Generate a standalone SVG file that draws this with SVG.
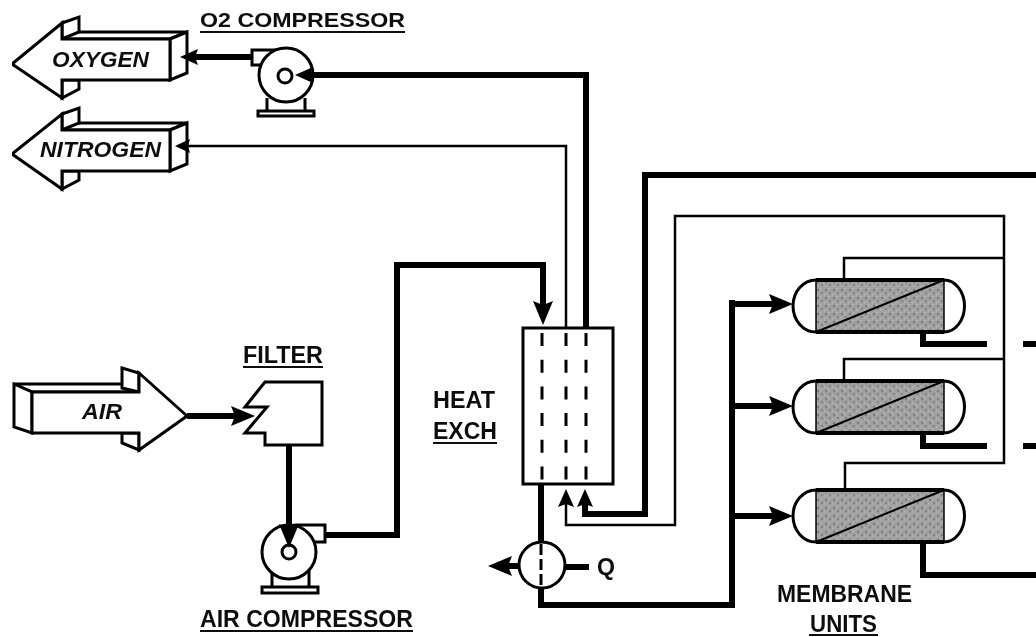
<svg xmlns="http://www.w3.org/2000/svg" width="1036" height="637" viewBox="0 0 1036 637">
<style>
.o{fill:#fff;stroke:#000;stroke-width:3;stroke-linejoin:miter}
.n{fill:none;stroke:#000;stroke-width:3}
.h{fill:none;stroke:#000;stroke-width:6;stroke-linejoin:miter}
.t{fill:none;stroke:#000;stroke-width:2.5}
.d{fill:none;stroke:#000;stroke-width:3;stroke-dasharray:13 13.7}
.u{stroke:#111;stroke-width:2}
text{font-family:"Liberation Sans",Arial,sans-serif;font-weight:bold;fill:#111;font-size:23px}
.i{font-style:italic;font-size:22px}
</style>
<defs>
<filter id="soft" x="0" y="0" width="100%" height="100%"><feGaussianBlur stdDeviation="0.55"/></filter>
<marker id="ah" markerUnits="userSpaceOnUse" markerWidth="24" markerHeight="22" viewBox="0 0 24 22" refX="12" refY="11" orient="auto"><path d="M0,1 L24,11 L0,21 L4,11z" fill="#000"/></marker>
<marker id="am" markerUnits="userSpaceOnUse" markerWidth="18" markerHeight="16" viewBox="0 0 18 16" refX="10" refY="8" orient="auto"><path d="M0,0 L18,8 L0,16 L3,8z" fill="#000"/></marker>
<marker id="at" markerUnits="userSpaceOnUse" markerWidth="15" markerHeight="14" viewBox="0 0 15 14" refX="6" refY="7" orient="auto"><path d="M0,0 L15,7 L0,14 L2,7z" fill="#000"/></marker>
<pattern id="dots" patternUnits="userSpaceOnUse" width="8" height="8">
<rect width="8" height="8" fill="#a2a2a2"/>
<circle cx="2" cy="2" r="1.200" fill="#7c7c7c"/><circle cx="6" cy="5" r="1.200" fill="#858585"/><circle cx="5" cy="1" r="0.800" fill="#bdbdbd"/><circle cx="1" cy="6" r="0.800" fill="#bdbdbd"/>
</pattern>
<g id="mem">
<path d="M816,280 H944 A20.500,26 0 0 1 944,332 H816 A23,26 0 0 1 816,280z" fill="#fff" stroke="#000" stroke-width="3"/>
<rect x="816" y="280" width="128" height="52" fill="url(#dots)" stroke="#000" stroke-width="1.500"/>
<path d="M816,280 H944 M816,332 H944" stroke="#000" stroke-width="4" fill="none"/>
<path d="M816,332 L944,280" stroke="#000" stroke-width="2" fill="none"/>
</g>
</defs>
<rect width="1036" height="637" fill="#fff"/>
<g filter="url(#soft)">
<g id="oxygen">
<path class="o" d="M62,32 H187 L170,39 H62z"/>
<path class="o" d="M62,23 L79,17 V32 L62,39z"/>
<path class="o" d="M62,80 H79 V89 L62,98z"/>
<path class="o" d="M170,39 L187,32 V73 L170,80z"/>
<path class="o" d="M12,64 L62,23 V39 H170 V80 H62 V98z"/>
<text class="i" x="52" y="67" textLength="97" lengthAdjust="spacingAndGlyphs">OXYGEN</text>
</g>
<g id="nitrogen">
<path class="o" d="M62,123 H187 L170,130 H62z"/>
<path class="o" d="M62,114 L79,108 V123 L62,130z"/>
<path class="o" d="M62,171 H79 V180 L62,189z"/>
<path class="o" d="M170,130 L187,123 V164 L170,171z"/>
<path class="o" d="M12,154 L62,114 V130 H170 V171 H62 V189z"/>
<text class="i" x="40" y="157" textLength="121" lengthAdjust="spacingAndGlyphs">NITROGEN</text>
</g>
<g id="o2-compressor">
<path class="o" d="M252,50 H290 V65 H252z"/>
<path class="o" d="M267,98 V112 M305,98 V112"/>
<rect class="o" x="258" y="111" width="56" height="5"/>
<circle class="o" cx="286" cy="75" r="27"/>
<circle class="o" cx="285" cy="76" r="7"/>
<text x="200" y="27" textLength="205" lengthAdjust="spacingAndGlyphs" style="font-size:21px">O2 COMPRESSOR</text>
<line class="u" x1="200" y1="32" x2="405" y2="32"/>
</g>
<g id="air">
<path class="o" d="M14,384 H122 L139,392 H32z"/>
<path class="o" d="M122,368 L139,373 V392 L122,388z"/>
<path class="o" d="M122,433 H139 V450 L122,443z"/>
<path class="o" d="M14,384 L32,392 V433 L14,427z"/>
<path class="o" d="M32,392 H139 V373 L187,416 L139,450 V433 H32z"/>
<text class="i" x="82" y="419" textLength="40" lengthAdjust="spacingAndGlyphs">AIR</text>
</g>
<g id="filter">
<path class="o" d="M265,382 H322 V445 H265 V433 H245 L267,407 H245z"/>
<text x="243" y="363" textLength="80" lengthAdjust="spacingAndGlyphs">FILTER</text>
<line class="u" x1="243" y1="367" x2="323" y2="367"/>
</g>
<g id="air-compressor">
<path class="o" d="M296,525 H325 V542 H296z"/>
<path class="o" d="M272,570 V588 M309,570 V588"/>
<rect class="o" x="262" y="587" width="56" height="6"/>
<circle class="o" cx="289" cy="552" r="27"/>
<circle class="o" cx="289" cy="552" r="7"/>
<text x="200" y="627" textLength="213" lengthAdjust="spacingAndGlyphs">AIR COMPRESSOR</text>
<line class="u" x1="200" y1="631" x2="413" y2="631"/>
</g>
<g id="heat-exchanger">
<rect class="o" x="523" y="328" width="90" height="156"/>
<path class="d" d="M542,333 V482 M566,333 V482 M586,333 V482"/>
<text x="433" y="408" textLength="62" lengthAdjust="spacingAndGlyphs">HEAT</text>
<text x="433" y="439" textLength="64" lengthAdjust="spacingAndGlyphs">EXCH</text>
<line class="u" x1="433" y1="443" x2="497" y2="443"/>
</g>
<g id="cooler">
<circle class="o" cx="542" cy="565" r="23"/>
<path class="n" d="M541,544 V586" stroke-dasharray="11 4"/>
<text x="597" y="575" textLength="18" lengthAdjust="spacingAndGlyphs">Q</text>
</g>
<g id="membrane-1"><use href="#mem"/></g>
<g id="membrane-2"><use href="#mem" y="101"/></g>
<g id="membrane-3"><use href="#mem" y="210"/></g>
<g id="membrane-label">
<text x="777" y="602" textLength="135" lengthAdjust="spacingAndGlyphs">MEMBRANE</text>
<text x="810" y="632" textLength="67" lengthAdjust="spacingAndGlyphs">UNITS</text>
<line class="u" x1="809" y1="635" x2="878" y2="635"/>
</g>
<g id="connectors">
<path class="h" d="M252,57 H188" marker-end="url(#am)"/>
<path class="t" d="M566,328 V146 H184" marker-end="url(#at)"/>
<path class="h" d="M586,328 V75 H303" marker-end="url(#am)"/>
<path class="h" d="M187,416 H243" marker-end="url(#ah)"/>
<path class="h" d="M289,445 V536" marker-end="url(#ah)"/>
<path class="h" d="M325,535 H397 V265 H543 V313" marker-end="url(#ah)"/>
<path class="h" d="M541,484 V542"/>
<path class="h" d="M541,588 V605 H732 V300"/>
<path class="h" d="M732,304 H781" marker-end="url(#ah)"/>
<path class="h" d="M732,406 H781" marker-end="url(#ah)"/>
<path class="h" d="M732,516 H781" marker-end="url(#ah)"/>
<path class="h" d="M565,567 H589"/>
<path class="h" d="M519,566 H500" marker-end="url(#ah)"/>
<path class="h" d="M1036,175 H645 V514 H585 V497" marker-end="url(#am)"/>
<path class="t" d="M1004,258 V216 H675 V525 H566 V497" marker-end="url(#am)"/>
<path class="t" d="M1004,258 H844 V280 M1004,258 V463 H845 V490 M1004,359 H844 V381"/>
<path class="h" d="M923,332 V344 H987 M1023,344 H1036 M923,433 V446 H987 M1023,446 H1036 M923,542 V575 H1036"/>
</g>
</g>
</svg>
